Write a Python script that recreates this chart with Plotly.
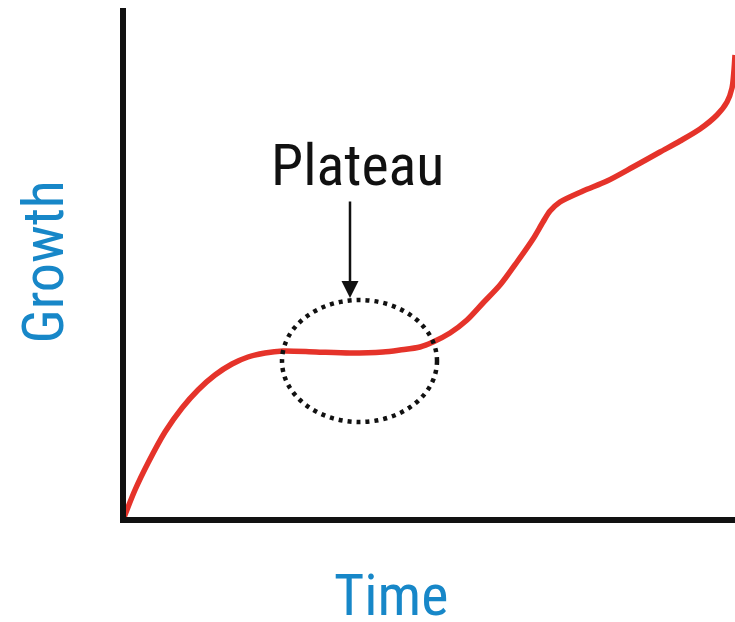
import plotly.graph_objects as go

# Growth curve (arbitrary units: time vs growth)
time = [0, 12, 25, 42, 59, 75, 92, 109, 125, 142, 160, 193, 227, 260, 277, 297,
        310, 327, 344, 360, 377, 394, 410, 420, 427, 437, 460, 484, 510, 537,
        557, 577, 594, 604, 609, 611, 612]
growth = [0, 30, 57, 88, 112, 130, 145, 156, 163, 167, 169, 168, 167, 168, 170,
          173, 178, 187, 200, 217, 235, 258, 281, 298, 309, 318, 329, 339, 353,
          368, 379, 391, 405, 418, 432, 450, 465]

annotation_label = "Plateau"
x_title = "Time"
y_title = "Growth"

FONT = "Roboto Condensed, Liberation Sans Narrow, Roboto, sans-serif"
BLUE = "#1787C8"
RED = "#E5332A"
BLACK = "#111111"

fig = go.Figure()
fig.add_trace(go.Scatter(
    x=time, y=growth, mode="lines",
    line=dict(color=RED, width=5.5, shape="spline", smoothing=0.8),
    hoverinfo="skip", showlegend=False,
))

# dotted ellipse around the plateau
fig.add_shape(type="circle", xref="x", yref="y", x0=159, x1=314, y0=98, y1=220,
              line=dict(color=BLACK, width=4.5, dash="4px,5px"))

# arrow pointing to the plateau
fig.add_annotation(x=227, y=222, ax=227, ay=320, axref="x", ayref="y",
                   xref="x", yref="y", text="", showarrow=True,
                   arrowhead=2, arrowwidth=2.5, arrowsize=1.36, arrowcolor=BLACK)

fig.add_annotation(x=234.5, y=355, xref="x", yref="y", text=annotation_label,
                   showarrow=False, font=dict(family=FONT, size=58, color=BLACK),
                   xanchor="center", yanchor="middle")

fig.add_annotation(x=0.4351, y=-0.1532, xref="paper", yref="paper", text=x_title,
                   showarrow=False, font=dict(family=FONT, size=58, color=BLUE),
                   xanchor="center", yanchor="middle")
fig.add_annotation(x=-0.1379, y=0.5, xref="paper", yref="paper", text=y_title,
                   showarrow=False, textangle=-90,
                   font=dict(family=FONT, size=58, color=BLUE),
                   xanchor="center", yanchor="middle")

axis_common = dict(showgrid=False, zeroline=False, showticklabels=False, ticks="",
                   showline=True, linewidth=6, linecolor=BLACK, fixedrange=True)
fig.update_xaxes(range=[3, 612], **axis_common)
fig.update_yaxes(range=[3, 512], **axis_common)

fig.update_layout(
    width=735, height=622,
    margin=dict(l=126, r=0, t=8, b=105),
    paper_bgcolor="white", plot_bgcolor="white",
    showlegend=False,
)

# remove the default page margin so the figure fills the window exactly
fig.write_html("out.html", config={"displayModeBar": False},
               post_script="document.body.style.margin='0';"
                           "document.body.style.overflow='hidden';")
